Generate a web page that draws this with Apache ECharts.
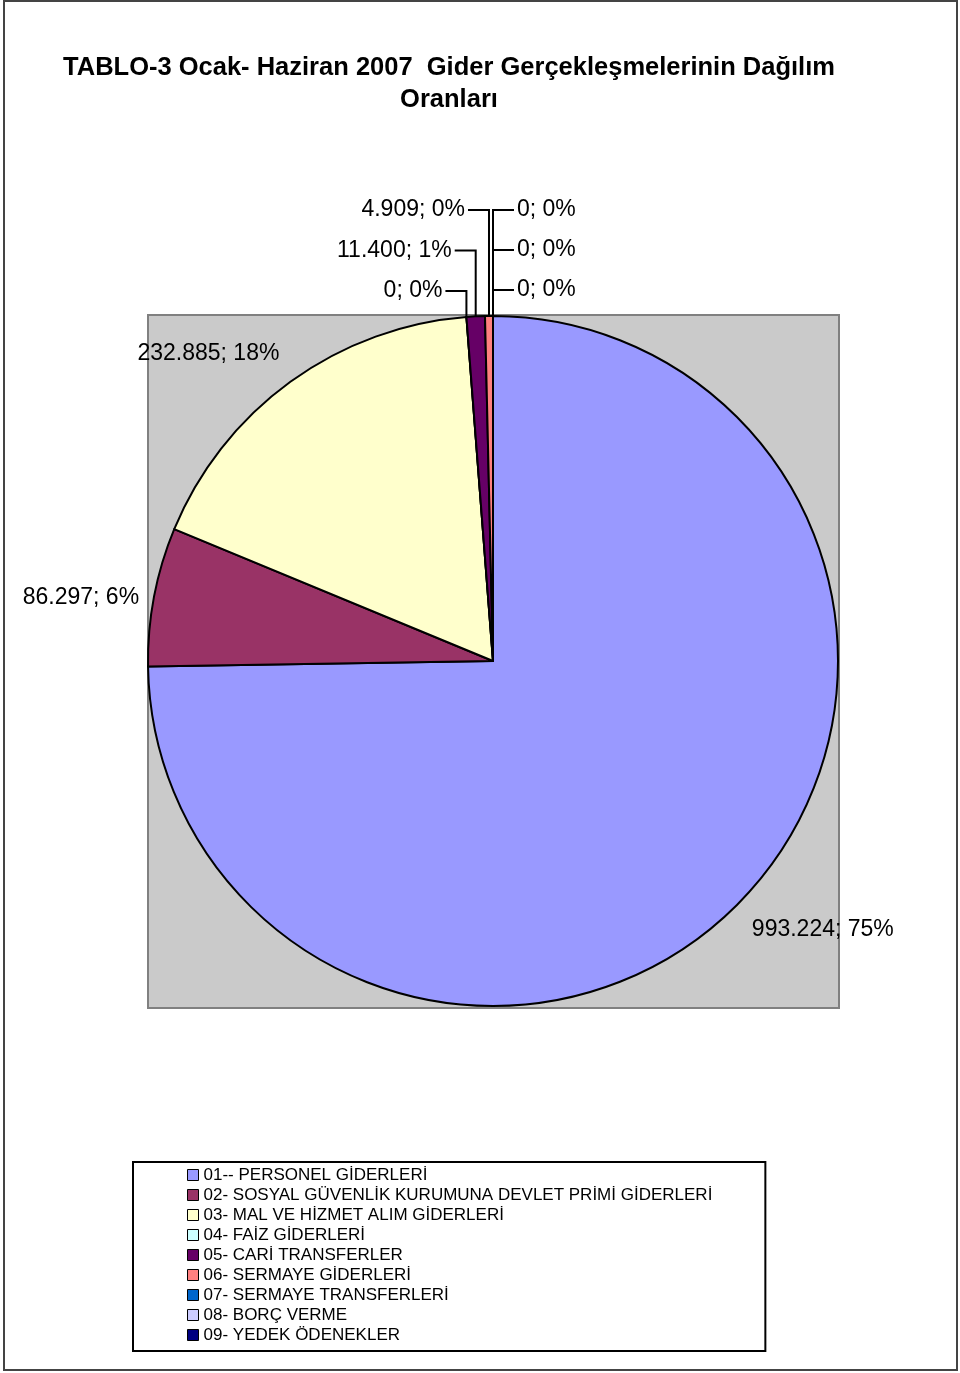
<!DOCTYPE html>
<html><head><meta charset="utf-8">
<script src="https://cdn.jsdelivr.net/npm/echarts@6/dist/echarts.min.js"></script>
<style>html,body{margin:0;padding:0;background:#fff}#c{width:960px;height:1373px}</style>
</head><body><div id="c"></div>
<script>
const categories = [
  '01-- PERSONEL GİDERLERİ',
  '02- SOSYAL GÜVENLİK KURUMUNA DEVLET PRİMİ GİDERLERİ',
  '03- MAL VE HİZMET ALIM GİDERLERİ',
  '04- FAİZ GİDERLERİ',
  '05- CARİ TRANSFERLER',
  '06- SERMAYE GİDERLERİ',
  '07- SERMAYE TRANSFERLERİ',
  '08- BORÇ VERME',
  '09- YEDEK ÖDENEKLER'
];
const values = [993224, 86297, 232885, 0, 11400, 4909, 0, 0, 0];
const colors = ['#9999FF', '#993366', '#FFFFCC', '#CCFFFF', '#660066', '#FF8080', '#0066CC', '#CCCCFF', '#000080'];
const titleText = 'TABLO-3 Ocak- Haziran 2007  Gider Gerçekleşmelerinin Dağılım\nOranları';

// label placement relative to the slice's outer edge point: [dx, dy, align, leader line]
const labelPlace = [
  [13, 27, 'left', false],
  [-15, 1, 'right', false],
  [-11, -28, 'right', false],
  [-24, -26, 'right', true],
  [-24, -66, 'right', true],
  [-24, -106, 'right', true],
  [24, -26, 'left', true],
  [24, -66, 'left', true],
  [24, -106, 'left', true]
];

const FONT = '"Liberation Sans", Arial, sans-serif';
function fmt(v) { return String(v).replace(/\B(?=(\d{3})+(?!\d))/g, '.'); }

const data = categories.map((name, i) => ({
  name: name,
  value: values[i],
  itemStyle: { color: colors[i] },
  labelLine: labelPlace[i][3] ? {} : { lineStyle: { opacity: 0 } }
}));

const chart = echarts.init(document.getElementById('c'), null, { renderer: 'canvas' });
chart.setOption({
  animation: false,
  backgroundColor: '#fff',
  title: {
    text: titleText,
    left: 444,
    top: 47,
    textAlign: 'center',
    textStyle: { fontFamily: FONT, fontSize: 25.5, fontWeight: 'bold', color: '#000', lineHeight: 32 }
  },
  graphic: [
    { type: 'rect', z: -10, shape: { x: 4, y: 1, width: 953, height: 1369 }, style: { fill: 'none', stroke: '#444', lineWidth: 2 } },
    { type: 'rect', z: -5, shape: { x: 148, y: 315, width: 691, height: 693 }, style: { fill: '#CACACA', stroke: '#808080', lineWidth: 2 } }
  ],
  legend: {
    orient: 'vertical',
    left: 133,
    top: 1162,
    padding: [3, 53, 6, 54],
    borderColor: '#000',
    borderWidth: 2,
    itemWidth: 11,
    itemHeight: 11,
    itemGap: 0,
    icon: 'rect',
    selectedMode: false,
    itemStyle: { borderColor: '#000', borderWidth: 1 },
    textStyle: { fontFamily: FONT, fontSize: 17, color: '#000', lineHeight: 20, padding: [0, 0, 0, 0] },
    data: categories
  },
  series: [{
    type: 'pie',
    center: [493, 661],
    radius: 345,
    startAngle: 90,
    clockwise: true,
    avoidLabelOverlap: false,
    silent: true,
    itemStyle: { borderColor: '#000', borderWidth: 2 },
    label: {
      show: true,
      position: 'outside',
      fontFamily: FONT,
      fontSize: 23,
      color: '#000',
      formatter: p => fmt(p.value) + '; ' + Math.round(p.percent) + '%'
    },
    labelLine: { show: true, length: 10, length2: 10, lineStyle: { color: '#000', width: 2 } },
    labelLayout: function (p) {
      const pl = labelPlace[p.dataIndex];
      const pts = p.labelLinePoints;
      if (!pts) return {};
      const e = pts[0];
      const lx = e[0] + pl[0];
      const ly = e[1] + pl[1];
      const res = { x: lx, y: ly, align: pl[2], verticalAlign: 'middle' };
      if (pl[3]) {
        const endX = pl[2] === 'right' ? lx + 3 : lx - 3;
        res.labelLinePoints = [[e[0], e[1]], [e[0], ly], [endX, ly]];
      }
      return res;
    },
    data: data
  }]
});
</script>
</body></html>
